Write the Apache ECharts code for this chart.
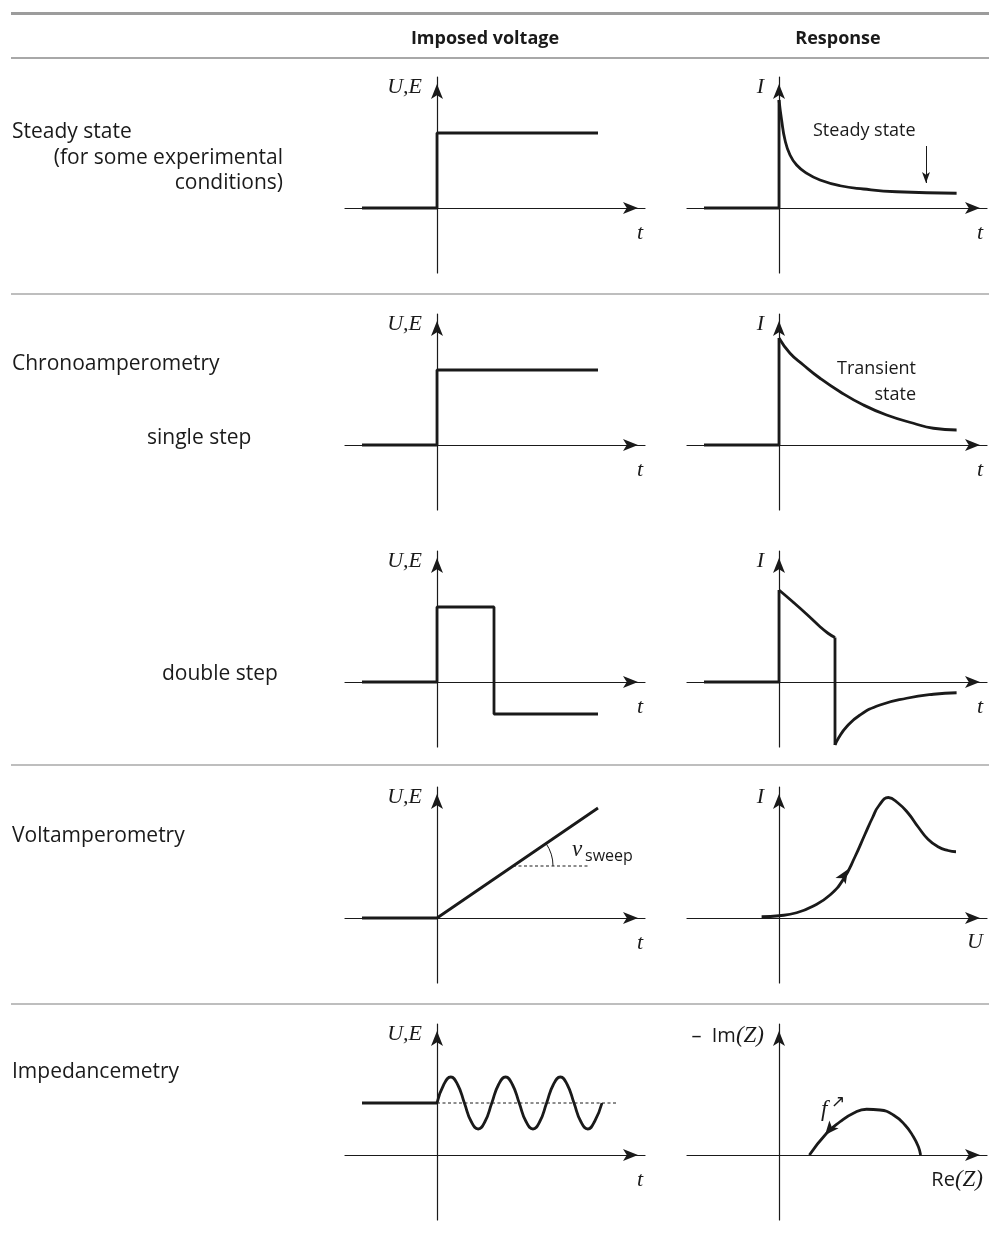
<!DOCTYPE html>
<html><head><meta charset="utf-8">
<script src="https://cdn.jsdelivr.net/npm/echarts@6/dist/echarts.min.js"></script>
<style>html,body{margin:0;padding:0;background:#fff}#c{width:989px;height:1237px}</style>
</head><body><div id="c"></div>
<script>
// ---------- data (arbitrary units) ----------
const columnTitles = ['Imposed voltage', 'Response'];
const rowTitles = ['Steady state', '(for some experimental', 'conditions)', 'Chronoamperometry', 'single step', 'double step', 'Voltamperometry', 'Impedancemetry'];

// Row 1 : steady state
const steadyVoltage = [[-3.75, 0], [0, 0], [0, 3], [8.05, 3]];
const steadyJump = [[-3.75, 0], [0, 0], [0, 4.32]];
const steadyDecay = [[0, 4.32], [0.13, 3.52], [0.3, 2.72], [0.55, 2.12], [0.88, 1.72], [1.38, 1.39], [2.05, 1.12], [3.05, 0.89], [4.22, 0.76], [5.88, 0.65], [8.88, 0.59]];
const steadyMarker = [[7.35, 2.48], [7.35, 1.0]];

// Row 2 : single step chronoamperometry
const singleStepVoltage = [[-3.75, 0], [0, 0], [0, 3], [8.05, 3]];
const transientJump = [[-3.75, 0], [0, 0], [0, 4.28]];
const transientDecay = [[0, 4.28], [0.55, 3.67], [1.22, 3.2], [2.05, 2.67], [3.05, 2.13], [4.22, 1.6], [5.38, 1.2], [6.72, 0.87], [7.72, 0.67], [8.88, 0.6]];

// Row 3 : double step
const doubleStepVoltage = [[-3.75, 0], [0, 0], [0, 3], [2.85, 3], [2.85, -1.28], [8.05, -1.28]];
const doubleJump = [[-3.75, 0], [0, 0], [0, 3.68]];
const doubleDecay = [[0, 3.68], [0.7, 3.2], [1.4, 2.7], [2.0, 2.25], [2.45, 1.95], [2.8, 1.78]];
const doubleDrop = [[2.8, 1.78], [2.8, -2.52]];
const doubleRecovery = [[2.8, -2.52], [2.97, -2.25], [3.38, -1.79], [4.05, -1.32], [5.05, -0.92], [6.38, -0.65], [7.72, -0.49], [8.88, -0.43]];

// Row 4 : voltamperometry
const rampVoltage = [[-3.75, 0], [0, 0], [8.05, 4.4]];
const rampReference = [[3.8, 2.08], [7.6, 2.08]];
const voltammogram = [[-0.87, 0.05], [0, 0.09], [0.88, 0.21], [1.72, 0.48], [2.55, 0.92], [3.22, 1.55], [3.8, 2.45], [4.3, 3.35], [4.68, 4.02], [5.0, 4.5], [5.47, 4.82], [5.95, 4.6], [6.45, 4.2], [6.95, 3.65], [7.45, 3.15], [7.95, 2.85], [8.45, 2.7], [8.85, 2.65]];
const voltammogramArrow = [3.45, 1.95];

// Row 5 : impedancemetry
const dcLevel = [[-3.75, 2.08], [0, 2.08]];
const acSignal = [[0, 2.08], [0.34, 2.82], [0.69, 3.12], [1.03, 2.82], [1.37, 2.08], [1.71, 1.34], [2.06, 1.04], [2.4, 1.34], [2.74, 2.08],
  [3.08, 2.82], [3.43, 3.12], [3.77, 2.82], [4.11, 2.08], [4.45, 1.34], [4.8, 1.04], [5.14, 1.34], [5.48, 2.08],
  [5.82, 2.82], [6.17, 3.12], [6.51, 2.82], [6.85, 2.08], [7.19, 1.34], [7.54, 1.04], [7.88, 1.34], [8.25, 2.08]];
const acReference = [[0, 2.08], [9.0, 2.08]];
const nyquist = [[1.52, 0], [2.38, 0.87], [3.05, 1.33], [3.72, 1.67], [4.38, 1.83], [5.05, 1.8], [5.72, 1.6], [6.3, 1.2], [6.72, 0.73], [6.97, 0.33], [7.08, 0]];
const nyquistArrow = [2.3, 0.8];

// axis extents (units)
const xRange = [-4.6, 10.4];
const yRange = [-2.6, 5.24];

// ---------- layout ----------
const axisYs = [208, 445, 682, 918, 1155];
const colLeft = [345, 687];
const INK = '#1a1a1a';
const SANS = '"Open Sans", "Noto Sans", sans-serif';
const SERIF = '"Liberation Serif", "DejaVu Serif", serif';

const grids = [], xAxes = [], yAxes = [];
for (let r = 0; r < 5; r++) {
  for (let c = 0; c < 2; c++) {
    const i = r * 2 + c;
    grids.push({ left: colLeft[c], top: axisYs[r] - 131, width: 300, height: 196 });
    const axisLine = { onZero: true, lineStyle: { color: INK, width: 1.2 }, symbol: ['none', 'arrow'], symbolSize: [9, 15], symbolOffset: [0, -7] };
    xAxes.push({ gridIndex: i, type: 'value', min: xRange[0], max: xRange[1], axisLine: axisLine, axisTick: { show: false }, axisLabel: { show: false }, splitLine: { show: false } });
    yAxes.push({ gridIndex: i, type: 'value', min: yRange[0], max: yRange[1], axisLine: axisLine, axisTick: { show: false }, axisLabel: { show: false }, splitLine: { show: false } });
  }
}

function line(i, data, extra) {
  return Object.assign({ type: 'line', xAxisIndex: i, yAxisIndex: i, data: data, showSymbol: false, symbol: 'none', silent: true,
    lineStyle: { color: INK, width: 2.8 }, z: 5 }, extra || {});
}
const smooth = { smooth: 0.5 };
const dashed = { lineStyle: { color: INK, width: 1, type: [3, 2.5] }, z: 4 };

const series = [
  line(0, steadyVoltage),
  line(1, steadyJump),
  line(1, steadyDecay, Object.assign({}, smooth, {
    markLine: { silent: true, symbol: ['none', 'arrow'], symbolSize: [6, 11], label: { show: false },
      lineStyle: { color: INK, width: 1, type: 'solid' },
      data: [[{ coord: steadyMarker[0] }, { coord: steadyMarker[1] }]] }
  })),
  line(2, singleStepVoltage),
  line(3, transientJump),
  line(3, transientDecay, smooth),
  line(4, doubleStepVoltage),
  line(5, doubleJump),
  line(5, doubleDecay, smooth),
  line(5, doubleDrop),
  line(5, doubleRecovery, smooth),
  line(6, rampVoltage),
  line(6, rampReference, dashed),
  {
    type: 'custom', xAxisIndex: 6, yAxisIndex: 6, silent: true, z: 4,
    data: [rampReference[0]],
    renderItem: function (params, api) {
      const c = api.coord([api.value(0), api.value(1)]);
      const p0 = api.coord(rampVoltage[1]);
      const p1 = api.coord(rampVoltage[2]);
      const ang = Math.atan2(p1[1] - p0[1], p1[0] - p0[0]);
      return { type: 'arc', shape: { cx: c[0], cy: c[1], r: 40, startAngle: ang, endAngle: 0, clockwise: true },
        style: { stroke: INK, fill: null, lineWidth: 1 } };
    }
  },
  line(7, voltammogram, Object.assign({}, smooth, {
    markPoint: { silent: true, symbol: 'arrow', symbolSize: [9, 14], symbolRotate: -32, itemStyle: { color: INK }, label: { show: false },
      data: [{ coord: voltammogramArrow }] }
  })),
  line(8, dcLevel),
  line(8, acSignal, smooth),
  line(8, acReference, dashed),
  line(9, nyquist, Object.assign({}, smooth, {
    markPoint: { silent: true, symbol: 'arrow', symbolSize: [9, 14], symbolRotate: 140, itemStyle: { color: INK }, label: { show: false },
      data: [{ coord: nyquistArrow }] }
  }))
];

// ---------- texts & rules ----------
function T(x, y, text, font, align, extra) {
  return { type: 'text', x: x, y: y, silent: true,
    style: Object.assign({ text: text, font: font, fill: INK, align: align || 'left', verticalAlign: 'middle', textAlign: align || 'left', textVerticalAlign: 'middle' }, extra || {}) };
}
function rule(y, w, color) {
  return { type: 'line', silent: true, shape: { x1: 11, y1: y, x2: 989, y2: y }, style: { stroke: color, lineWidth: w } };
}
const labelFont = '21px ' + SANS;
const mathFont = 'italic 22px ' + SERIF;
const rich = { a: { font: '20px ' + SANS, fill: INK }, b: { font: 'italic 23px ' + SERIF, fill: INK } };
const graphic = [
  rule(13.5, 3, '#9c9c9c'),
  rule(58, 2, '#a8a8a8'),
  rule(294, 1.5, '#a8a8a8'),
  rule(765, 1.5, '#a8a8a8'),
  rule(1004, 1.5, '#a8a8a8'),
  T(485, 39, columnTitles[0], 'bold 18px ' + SANS, 'center'),
  T(838, 39, columnTitles[1], 'bold 18px ' + SANS, 'center'),
  T(12, 132, rowTitles[0], labelFont),
  T(283, 158, rowTitles[1], labelFont, 'right'),
  T(283, 183, rowTitles[2], labelFont, 'right'),
  T(12, 364, rowTitles[3], labelFont),
  T(147, 438, rowTitles[4], labelFont),
  T(162, 674, rowTitles[5], labelFont),
  T(12, 836, rowTitles[6], labelFont),
  T(12, 1072, rowTitles[7], labelFont),
  // panel annotations
  T(813, 131, 'Steady state', '18px ' + SANS),
  T(916, 369, 'Transient', '18px ' + SANS, 'right'),
  T(916, 395, 'state', '18px ' + SANS, 'right'),
  T(572, 850, 'v', 'italic 23px ' + SERIF),
  T(585, 856, 'sweep', '16px ' + SANS),
  T(821, 1110, 'f', 'italic 23px ' + SERIF),
  T(831, 1103, '↗', '17px "DejaVu Sans", sans-serif'),
  T(983, 1180, '{a|Re}{b|(Z)}', '20px ' + SANS, 'right', { rich: rich }),
  T(764, 1036, '{a|–  Im}{b|(Z)}', '20px ' + SANS, 'right', { rich: rich }),
  T(983, 942, 'U', mathFont, 'right')
];
for (let r = 0; r < 5; r++) {
  const ay = axisYs[r];
  graphic.push(T(422, ay - 121, 'U,E', mathFont, 'right'));
  graphic.push(T(643, ay + 25, 't', mathFont, 'right'));
  if (r < 4) graphic.push(T(764, ay - 121, 'I', mathFont, 'right'));
  if (r < 3) graphic.push(T(983, ay + 25, 't', mathFont, 'right'));
}

const chart = echarts.init(document.getElementById('c'), null, { renderer: 'canvas' });
chart.setOption({
  animation: false,
  backgroundColor: '#fff',
  grid: grids, xAxis: xAxes, yAxis: yAxes,
  series: series,
  graphic: graphic
});
</script></body></html>
